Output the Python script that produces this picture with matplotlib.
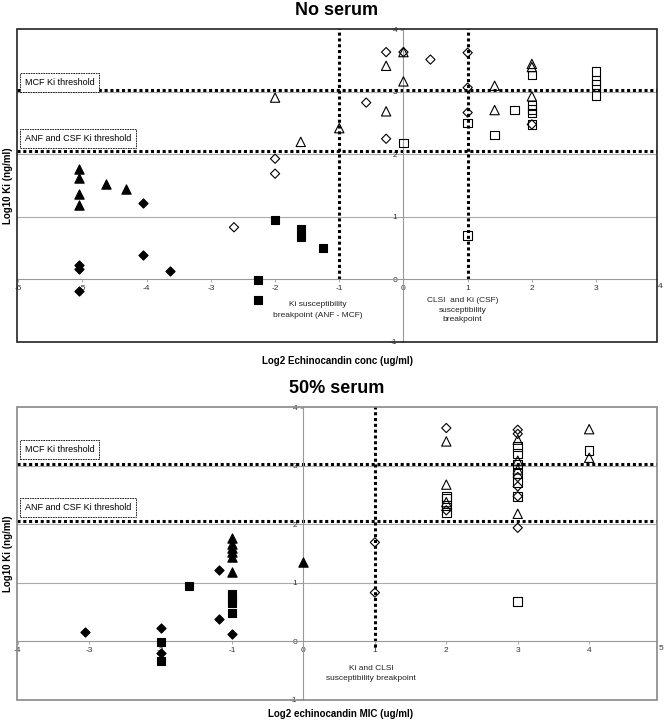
import matplotlib.pyplot as plt
from matplotlib.patches import Rectangle

plt.rcParams['font.family'] = ['Liberation Sans', 'DejaVu Sans']
plt.rcParams['axes.unicode_minus'] = False

# ---- No serum panel (x: log2 conc, y: log10 Ki) ----
ns_tri_f_x = [-5.06, -5.06, -5.06, -5.06, -4.64, -4.32]
ns_tri_f_y = [1.76, 1.62, 1.37, 1.19, 1.53, 1.44]
ns_dia_f_x = [-4.06, -4.06, -3.64, -5.06, -5.06, -5.06]
ns_dia_f_y = [1.22, 0.38, 0.13, 0.22, 0.155, -0.19]
ns_sq_f_x = [-2.0, -1.6, -1.6, -1.26, -2.27, -2.27]
ns_sq_f_y = [0.95, 0.81, 0.68, 0.49, -0.02, -0.33]
ns_tri_o_x = [-2.0, -1.6, -1.0, -0.27, 0.0, 0.0, -0.27, 1.42, 1.42, 2.0, 2.0, 2.0]
ns_tri_o_y = [2.91, 2.20, 2.42, 3.42, 3.64, 3.17, 2.69, 3.10, 2.71, 3.45, 3.40, 2.93]
ns_dia_o_x = [-2.0, -2.0, -2.64, -0.27, 0.0, 0.42, 1.0, 1.0, -0.58, -0.27, 1.0, 2.0]
ns_dia_o_y = [1.93, 1.69, 0.83, 3.64, 3.64, 3.52, 3.63, 3.07, 2.83, 2.25, 2.67, 2.48]
ns_sq_o_x = [0.0, 1.0, 1.0, 1.42, 1.73, 2.0, 2.0, 2.0, 2.0, 2.0, 3.0, 3.0, 3.0, 3.0]
ns_sq_o_y = [2.18, 2.50, 0.70, 2.31, 2.71, 3.27, 2.78, 2.72, 2.66, 2.48, 3.33, 3.18, 3.12, 2.94]

# ---- 50% serum panel (x: log2 MIC) ----
s_tri_f_x = [-1.0, -1.0, -1.0, -1.0, -1.0, -1.0, 0.0]
s_tri_f_y = [1.76, 1.67, 1.60, 1.52, 1.44, 1.18, 1.36]
s_dia_f_x = [-3.06, -2.0, -2.0, -1.18, -1.18, -1.0]
s_dia_f_y = [0.15, 0.22, -0.21, 1.21, 0.37, 0.12]
s_sq_f_x = [-2.0, -2.0, -1.6, -1.0, -1.0, -1.0, -1.0]
s_sq_f_y = [-0.02, -0.34, 0.94, 0.80, 0.72, 0.66, 0.48]
s_tri_o_x = [2.0, 2.0, 2.0, 3.0, 3.0, 3.0, 3.0, 4.0, 4.0]
s_tri_o_y = [3.42, 2.68, 2.38, 3.45, 3.09, 2.94, 2.18, 3.63, 3.14]
s_dia_o_x = [1.0, 1.0, 2.0, 2.0, 3.0, 3.0, 3.0, 3.0, 3.0, 3.0]
s_dia_o_y = [1.69, 0.83, 3.65, 2.24, 3.62, 3.55, 2.81, 2.65, 2.48, 1.94]
s_sq_o_x = [2.0, 2.0, 2.0, 2.0, 3.0, 3.0, 3.0, 3.0, 3.0, 3.0, 3.0, 4.0]
s_sq_o_y = [2.48, 2.44, 2.32, 2.20, 3.33, 3.21, 3.03, 2.87, 2.72, 2.48, 0.68, 3.26]

yticks = [-1, 0, 1, 2, 3, 4]
mcf_threshold = 3.03
anf_threshold = 2.06


def style_axes(ax, xticks, xlim, frame_color):
    ax.set_xlim(*xlim)
    ax.set_ylim(-1.01, 4.01)
    for side in ['top', 'right']:
        ax.spines[side].set_visible(False)
    ax.spines['left'].set_position(('data', 0))
    ax.spines['bottom'].set_position(('data', 0))
    for side in ['left', 'bottom']:
        ax.spines[side].set_color('#999999')
        ax.spines[side].set_linewidth(0.8)
    ax.set_xticks(xticks[:-1])
    ax.set_yticks(yticks)
    ax.tick_params(length=2.5, width=0.6, labelsize=6, colors='#999999', labelcolor='#333333', pad=2)
    # last x tick sits on the right frame, half cut in the original
    ax.text(xticks[-1], -0.07, str(xticks[-1]), fontsize=6, color='#333333',
            ha='center', va='top', clip_on=False)
    for y in [1, 2, 3]:
        ax.axhline(y, color='#aaaaaa', lw=0.8, zorder=1)
    ax.add_patch(Rectangle((0, 0), 1, 1, transform=ax.transAxes, fill=False,
                           edgecolor=frame_color, lw=1.2, clip_on=False, zorder=5))
    ax.axhline(mcf_threshold, color='black', lw=2.2, ls=(0, (1, 0.9)), zorder=2)
    ax.axhline(anf_threshold, color='black', lw=2.2, ls=(0, (1, 0.9)), zorder=2)
    box = dict(boxstyle='square,pad=0.55', fc='white', ec='black', lw=0.6, ls=(0, (2, 1)))
    return box


def draw_points(ax, tri_f, dia_f, sq_f, tri_o, dia_o, sq_o):
    kw = dict(zorder=6, linewidths=0.8)
    ax.scatter(*tri_f, marker='^', s=45, c='black', **kw)
    ax.scatter(*dia_f, marker='D', s=22, c='black', **kw)
    ax.scatter(*sq_f, marker='s', s=38, c='black', **kw)
    ax.scatter(*tri_o, marker='^', s=45, facecolors='none', edgecolors='black', **kw)
    ax.scatter(*dia_o, marker='D', s=22, facecolors='none', edgecolors='black', **kw)
    ax.scatter(*sq_o, marker='s', s=38, facecolors='none', edgecolors='black', **kw)


fig = plt.figure(figsize=(6.64, 7.22), dpi=100)

# top panel
ax1 = fig.add_axes([0.0256, 0.5263, 0.9639, 0.4335])
box = style_axes(ax1, list(range(-6, 5)), (-6.02, 3.95), '#222222')
ax1.vlines([-1, 1], 0, 4.05, color='black', lw=2.2, ls=(0, (1, 0.9)), zorder=2)
draw_points(ax1, (ns_tri_f_x, ns_tri_f_y), (ns_dia_f_x, ns_dia_f_y), (ns_sq_f_x, ns_sq_f_y),
            (ns_tri_o_x, ns_tri_o_y), (ns_dia_o_x, ns_dia_o_y), (ns_sq_o_x, ns_sq_o_y))
ax1.text(0.012, 0.83, 'MCF Ki threshold', transform=ax1.transAxes, fontsize=6.5,
         va='center', bbox=box, zorder=7)
ax1.text(0.012, 0.649, 'ANF and CSF Ki threshold', transform=ax1.transAxes, fontsize=6.5,
         va='center', bbox=box, zorder=7)
ax1.text(-1.33, -0.5, 'Ki susceptibility\nbreakpoint (ANF - MCF)', fontsize=6,
         ha='center', va='center', color='#222222', linespacing=1.7)
ax1.text(0.92, -0.5, 'CLSI  and Ki (CSF)\nsusceptibility\nbreakpoint', fontsize=6,
         ha='center', va='center', color='#222222', linespacing=1.5)
ax1.set_title('No serum', fontsize=13, fontweight='bold', pad=10)
ax1.text(0.5, -0.061, 'Log2 Echinocandin conc (ug/ml)', transform=ax1.transAxes,
         fontsize=7, fontweight='bold', ha='center', va='center')
ax1.text(-0.014, 0.5, 'Log10 Ki (ng/ml)', transform=ax1.transAxes, rotation=90,
         fontsize=7, fontweight='bold', ha='center', va='center')

# bottom panel
ax2 = fig.add_axes([0.0256, 0.0305, 0.9639, 0.4058])
box = style_axes(ax2, list(range(-4, 6)), (-4.01, 4.95), '#888888')
ax2.vlines([1], -0.1, 4.05, color='black', lw=2.2, ls=(0, (1, 0.9)), zorder=2)
draw_points(ax2, (s_tri_f_x, s_tri_f_y), (s_dia_f_x, s_dia_f_y), (s_sq_f_x, s_sq_f_y),
            (s_tri_o_x, s_tri_o_y), (s_dia_o_x, s_dia_o_y), (s_sq_o_x, s_sq_o_y))
ax2.text(0.012, 0.855, 'MCF Ki threshold', transform=ax2.transAxes, fontsize=6.5,
         va='center', bbox=box, zorder=7)
ax2.text(0.012, 0.657, 'ANF and CSF Ki threshold', transform=ax2.transAxes, fontsize=6.5,
         va='center', bbox=box, zorder=7)
ax2.text(0.95, -0.56, 'Ki and CLSI\nsusceptibility breakpoint', fontsize=6,
         ha='center', va='center', color='#222222', linespacing=1.6)
ax2.set_title('50% serum', fontsize=13, fontweight='bold', pad=10)
ax2.text(0.506, -0.048, 'Log2 echinocandin MIC (ug/ml)', transform=ax2.transAxes,
         fontsize=7, fontweight='bold', ha='center', va='center')
ax2.text(-0.014, 0.5, 'Log10 Ki (ng/ml)', transform=ax2.transAxes, rotation=90,
         fontsize=7, fontweight='bold', ha='center', va='center')

fig.savefig('out.png', dpi=100)
